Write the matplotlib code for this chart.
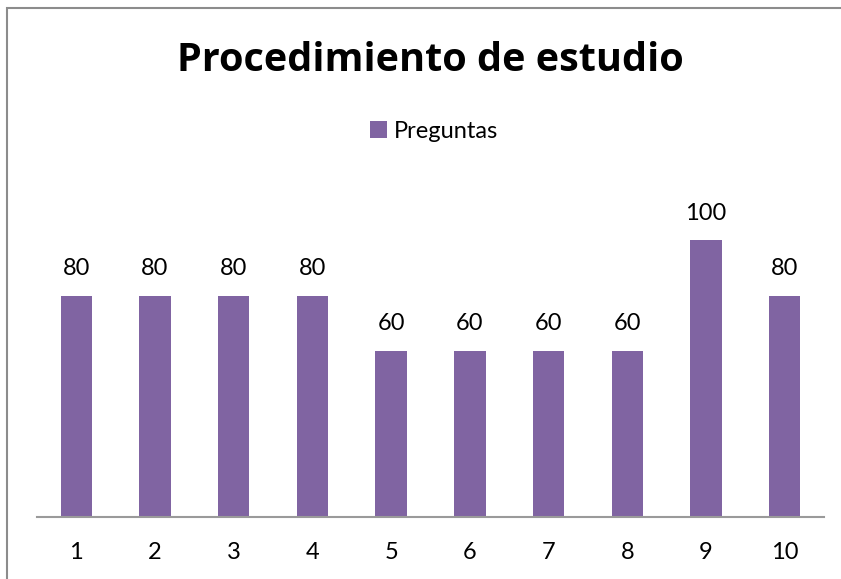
import matplotlib.pyplot as plt
from matplotlib.patches import Rectangle

# data
categories = ['1', '2', '3', '4', '5', '6', '7', '8', '9', '10']
preguntas = [80, 80, 80, 80, 60, 60, 60, 60, 100, 80]

purple = '#8064A2'
plt.rcParams['font.family'] = ['Lato', 'DejaVu Sans']

W, H = 841, 579
fig = plt.figure(figsize=(W / 100, H / 100), dpi=100)

# axes placed in pixel terms: x axis from 37 to 824, baseline at y=517
ax = fig.add_axes([37 / W, (H - 517) / H, (824 - 37) / W, 332 / H])
x = range(len(categories))
bars = ax.bar(x, preguntas, width=0.4, color=purple, label='Preguntas', zorder=2)
ax.set_xlim(-0.5, len(categories) - 0.5)
ax.set_ylim(0, 120)

for b, v in zip(bars, preguntas):
    ax.annotate(str(v), (b.get_x() + b.get_width() / 2, v), xytext=(0, 12),
                textcoords='offset points', ha='center', va='bottom', fontsize=17)

ax.set_xticks(list(x))
ax.set_xticklabels(categories, fontsize=17)
ax.tick_params(axis='x', length=0, pad=18)
ax.set_yticks([])
for s in ['left', 'right', 'top']:
    ax.spines[s].set_visible(False)
ax.spines['bottom'].set_color('#9a9a9a')
ax.spines['bottom'].set_linewidth(1.5)

# chart title and legend
fig.text(430 / W, 1 - 71 / H, 'Procedimiento de estudio', ha='center',
         va='baseline', fontsize=28.5, fontweight='bold', family='Open Sans')
fig.legend(handles=[bars], labels=['Preguntas'], loc='center',
           bbox_to_anchor=(434 / W, 1 - 131 / H), frameon=False, fontsize=17,
           handlelength=0.7, handleheight=0.7, handletextpad=0.3)

# chart border (cropped at right and bottom)
fig.add_artist(Rectangle((7 / W, -0.1), 1.2, 1 - 8 / H + 0.1,
                         transform=fig.transFigure, fill=False,
                         edgecolor='#8c8c8c', linewidth=1.5))

fig.savefig('out.png', dpi=100)
